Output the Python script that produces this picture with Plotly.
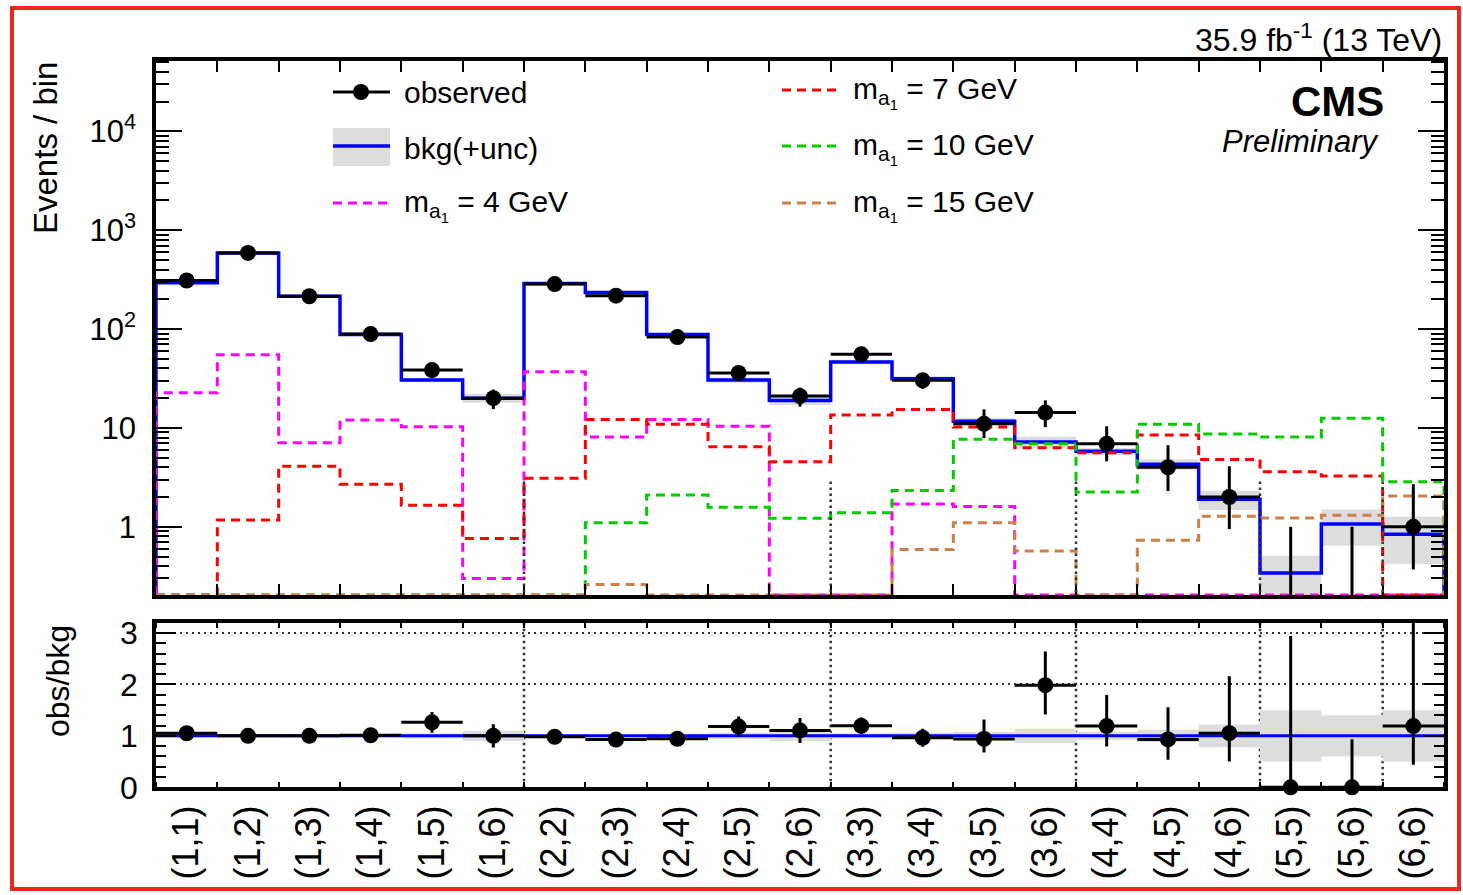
import numpy as np
import plotly.graph_objects as go

# ---------------------------------------------------------------- data
categories = ["(1,1)", "(1,2)", "(1,3)", "(1,4)", "(1,5)", "(1,6)", "(2,2)",
              "(2,3)", "(2,4)", "(2,5)", "(2,6)", "(3,3)", "(3,4)", "(3,5)",
              "(3,6)", "(4,4)", "(4,5)", "(4,6)", "(5,5)", "(5,6)", "(6,6)"]

observed = [310, 590, 215, 89, 38.5, 20, 285, 218, 83, 36, 21, 55.6, 30.3,
            11.0, 14.3, 6.9, 4.0, 2.0, 0, 0, 1.0]
obs_err_up = [18, 24, 15, 9.5, 6.2, 4.5, 17, 15, 9, 6, 4.6, 7.5, 5.5,
              4.4, 4.7, 3.5, 2.7, 2.1, 1.0, 1.0, 1.7]
obs_err_down = [18, 24, 15, 9.5, 6.2, 4.5, 17, 15, 9, 6, 4.6, 7.5, 5.5,
                3.1, 4.1, 2.3, 1.7, 1.05, 0, 0, 0.63]

background = [295, 590, 215, 88, 30.5, 20, 290, 235, 88, 30.5, 19, 46.5,
              31.5, 11.7, 7.2, 5.8, 4.3, 1.9, 0.34, 1.07, 0.84]
bkg_rel_unc = [0.03, 0.02, 0.03, 0.03, 0.05, 0.10, 0.03, 0.03, 0.04, 0.06,
               0.10, 0.05, 0.06, 0.08, 0.14, 0.08, 0.12, 0.22, 0.50, 0.40,
               0.50]

sig_ma4 = [22.7, 55, 7.1, 12, 10.3, 0.30, 37, 8.1, 12.2, 10.4, 0, 0, 1.7,
           1.6, 0, 0, 0, 0, 0, 0, 0]
sig_ma7 = [0, 1.17, 4.1, 2.7, 1.65, 0.76, 3.1, 12.2, 10.9, 6.45, 4.55, 13.5,
           15.4, 10.2, 6.3, 5.6, 8.5, 4.8, 3.6, 3.26, 0]
sig_ma10 = [0, 0, 0, 0, 0, 0, 0, 1.1, 2.1, 1.58, 1.22, 1.39, 2.33, 7.7, 6.9,
            2.25, 10.9, 8.7, 8.1, 12.5, 2.86]
sig_ma15 = [0, 0, 0, 0, 0, 0, 0, 0.26, 0, 0, 0, 0, 0.59, 1.1, 0.57, 0, 0.73,
            1.28, 1.23, 1.31, 2.05]

signals = [
    (sig_ma4, "#ff00ff", "4"),
    (sig_ma7, "#ff0000", "7"),
    (sig_ma10, "#00cc00", "10"),
    (sig_ma15, "#cd7f45", "15"),
]

# boundaries between the (i,j) groups
group_bounds = [6.5, 11.5, 15.5, 18.5, 20.5]

# ---------------------------------------------------------------- geometry
W, H = 1463, 895
FONT = "Liberation Sans, Arial, Helvetica, sans-serif"
Y_LOG_MIN, Y_LOG_MAX = -0.69, 4.712
FLOOR = 10 ** Y_LOG_MIN
DASH = "9px,6px"
SEP = dict(color="#333333", width=2.5, dash="2.5px,3.5px")

n = len(categories)
edges = np.arange(n + 1) + 0.5
centers = np.arange(n) + 1.0


def px(x):
    return x / W


def py(y):
    return 1 - y / H


def step_xy(vals):
    xs, ys = [edges[0]], [FLOOR]
    for i, v in enumerate(vals):
        v = v if v > 0 else FLOOR
        xs += [edges[i], edges[i + 1]]
        ys += [v, v]
    xs.append(edges[-1])
    ys.append(FLOOR)
    return xs, ys


def band_xy(centre, rel, lower_clip=None):
    xs, ys = [], []
    for i, (c, u) in enumerate(zip(centre, rel)):
        lo, hi = c * (1 - u), c * (1 + u)
        if lower_clip is not None:
            lo = max(lo, lower_clip)
        xs += [edges[i], edges[i + 1], edges[i + 1], edges[i], edges[i], None]
        ys += [lo, lo, hi, hi, lo, None]
    return xs, ys


fig = go.Figure()

# ---------------------------------------------------------------- main panel
bx, by = band_xy(background, bkg_rel_unc, lower_clip=FLOOR * 0.5)
fig.add_trace(go.Scatter(x=bx, y=by, mode="lines", fill="toself",
                         fillcolor="#dddddd", line=dict(width=0),
                         hoverinfo="skip", xaxis="x", yaxis="y"))

sx, sy = step_xy(background)
fig.add_trace(go.Scatter(x=sx, y=sy, mode="lines",
                         line=dict(color="#0000ff", width=3.5),
                         xaxis="x", yaxis="y"))

for vals, col, _ in signals:
    sx, sy = step_xy(vals)
    fig.add_trace(go.Scatter(x=sx, y=sy, mode="lines",
                             line=dict(color=col, width=3, dash=DASH),
                             xaxis="x", yaxis="y"))

# observed: bin-wide horizontal bars and vertical error bars
ex, ey = [], []
for i, (o, up, dn) in enumerate(zip(observed, obs_err_up, obs_err_down)):
    c = centers[i]
    if o > 0:
        ex += [edges[i], edges[i + 1], None]
        ey += [o, o, None]
        ex += [c, c, None]
        ey += [max(o - dn, FLOOR * 0.5), o + up, None]
    else:
        ex += [c, c, None]
        ey += [FLOOR * 0.5, up, None]
fig.add_trace(go.Scatter(x=ex, y=ey, mode="lines",
                         line=dict(color="black", width=3),
                         xaxis="x", yaxis="y"))
fig.add_trace(go.Scatter(x=centers, y=[o if o > 0 else None for o in observed],
                         mode="markers",
                         marker=dict(color="black", size=16),
                         xaxis="x", yaxis="y"))

# ---------------------------------------------------------------- ratio panel
ratio = [o / b for o, b in zip(observed, background)]
r_up = [u / b for u, b in zip(obs_err_up, background)]
r_dn = [d / b for d, b in zip(obs_err_down, background)]
ones = [1.0] * n

rx, ry = band_xy(ones, bkg_rel_unc)
fig.add_trace(go.Scatter(x=rx, y=ry, mode="lines", fill="toself",
                         fillcolor="#dddddd", line=dict(width=0),
                         hoverinfo="skip", xaxis="x2", yaxis="y2"))
fig.add_trace(go.Scatter(x=[edges[0], edges[-1]], y=[1, 1], mode="lines",
                         line=dict(color="#0000ff", width=3),
                         xaxis="x2", yaxis="y2"))

ex, ey = [], []
for i, (r, up, dn) in enumerate(zip(ratio, r_up, r_dn)):
    c = centers[i]
    ex += [edges[i], edges[i + 1], None, c, c, None]
    ey += [r, r, None, r - dn, r + up, None]
fig.add_trace(go.Scatter(x=ex, y=ey, mode="lines",
                         line=dict(color="black", width=3),
                         xaxis="x2", yaxis="y2"))
fig.add_trace(go.Scatter(x=centers, y=ratio, mode="markers",
                         marker=dict(color="black", size=16),
                         cliponaxis=False, xaxis="x2", yaxis="y2"))

# ---------------------------------------------------------------- axes
x_dom = [px(156), px(1444)]
main_dom = [py(595), py(61)]
ratio_dom = [py(787.3), py(622.7)]

frame = dict(showline=True, linewidth=3.5, linecolor="black",
             mirror="allticks", zeroline=False, tickcolor="black",
             automargin=False)

fig.update_layout(
    width=W, height=H,
    margin=dict(l=0, r=0, t=0, b=0, autoexpand=False),
    paper_bgcolor="white", plot_bgcolor="white",
    showlegend=False,
    font=dict(family=FONT, color="black"),
    xaxis=dict(domain=x_dom, range=[edges[0], edges[-1]], anchor="y",
               tickvals=list(edges[1:-1]), ticks="inside", ticklen=11,
               tickwidth=2, showticklabels=False, showgrid=False, **frame),
    yaxis=dict(domain=main_dom, type="log", range=[Y_LOG_MIN, Y_LOG_MAX],
               anchor="x",
               tickvals=[1, 10, 100, 1000, 10000],
               ticktext=["1", "10", "10<sup>2</sup>", "10<sup>3</sup>",
                         "10<sup>4</sup>"],
               ticks="inside", ticklen=26, tickwidth=2,
               ticklabelstandoff=10,
               minor=dict(ticks="inside", ticklen=13, tickwidth=2,
                          dtick="D1", showgrid=False, tickcolor="black"),
               tickfont=dict(size=31), showgrid=False, **frame),
    xaxis2=dict(domain=x_dom, range=[edges[0], edges[-1]], anchor="y2",
                tickvals=list(centers), ticktext=categories, tickangle=-90,
                ticks="", ticklabelstandoff=0,
                minor=dict(tick0=0.5, dtick=1, ticks="inside", ticklen=6,
                           tickwidth=2, showgrid=False, tickcolor="black"),
                tickfont=dict(size=36), showgrid=False, **frame),
    yaxis2=dict(domain=ratio_dom, range=[0, 3.2], anchor="x2",
                tickvals=[0, 1, 2, 3], ticks="inside", ticklen=20,
                tickwidth=2, ticklabelstandoff=8,
                minor=dict(dtick=0.2, ticks="inside", ticklen=10,
                           tickwidth=2, showgrid=False, tickcolor="black"),
                showgrid=True, griddash="2px,4px", gridcolor="#333333",
                gridwidth=2, tickfont=dict(size=32), **frame),
)

# group separators
shapes = []
for xb in group_bounds:
    shapes.append(dict(type="line", xref="x", yref="y", x0=xb, x1=xb,
                       y0=Y_LOG_MIN, y1=3, layer="above", line=SEP))
    shapes.append(dict(type="line", xref="x2", yref="y2", x0=xb, x1=xb,
                       y0=0, y1=3.2, layer="below", line=SEP))

# legend symbols
def pline(x0, x1, y, color, width=3, dash=None):
    ln = dict(color=color, width=width)
    if dash:
        ln["dash"] = dash
    return dict(type="line", xref="paper", yref="paper",
                x0=px(x0), x1=px(x1), y0=py(y), y1=py(y), line=ln)


shapes.append(pline(333, 390, 92, "black"))
shapes.append(dict(type="circle", xref="paper", yref="paper",
                   x0=px(353), x1=px(369), y0=py(100), y1=py(84),
                   fillcolor="black", line=dict(color="black", width=0)))
shapes.append(dict(type="rect", xref="paper", yref="paper",
                   x0=px(333), x1=px(390), y0=py(166), y1=py(128),
                   fillcolor="#dddddd", line=dict(width=0)))
shapes.append(pline(333, 390, 146, "#0000ff", width=3.5))
shapes.append(pline(333, 390, 203, signals[0][1], dash=DASH))
for (vals, col, _), yy in zip(signals[1:], [90, 146, 203]):
    shapes.append(pline(782, 838, yy, col, dash=DASH))

# outer border
shapes.append(dict(type="rect", xref="paper", yref="paper",
                   x0=px(12), x1=px(1459), y0=py(889), y1=py(8),
                   line=dict(color="#e8291c", width=4)))
fig.update_layout(shapes=shapes)

annotations = []


def txt(x, y, s, size=30, xanchor="left", **kw):
    annotations.append(dict(x=px(x), y=py(y), xref="paper", yref="paper",
                            text=s, showarrow=False, xanchor=xanchor,
                            yanchor="middle", font=dict(size=size), **kw))


ma = "m<sub>a<sub>1</sub></sub> = {} GeV"
txt(402, 92, "observed")
txt(402, 148, "bkg(+unc)")
txt(402, 205, ma.format(signals[0][2]))
for (vals, col, lab), yy in zip(signals[1:], [92, 148, 205]):
    txt(851, yy, ma.format(lab))

txt(1444, 38, "35.9 fb<sup>-1</sup> (13 TeV)", size=32, xanchor="right")
txt(1386, 101, "<b>CMS</b>", size=42, xanchor="right")
txt(1382, 141, "<i>Preliminary</i>", size=31, xanchor="right")

annotations.append(dict(x=px(45), y=py(60), xref="paper", yref="paper",
                        text="Events / bin", showarrow=False, textangle=-90,
                        xanchor="center", yanchor="top", font=dict(size=33)))
annotations.append(dict(x=px(58), y=py(623), xref="paper", yref="paper",
                        text="obs/bkg", showarrow=False, textangle=-90,
                        xanchor="center", yanchor="top", font=dict(size=32)))
fig.update_layout(annotations=annotations)

fig.write_html("out.html")
